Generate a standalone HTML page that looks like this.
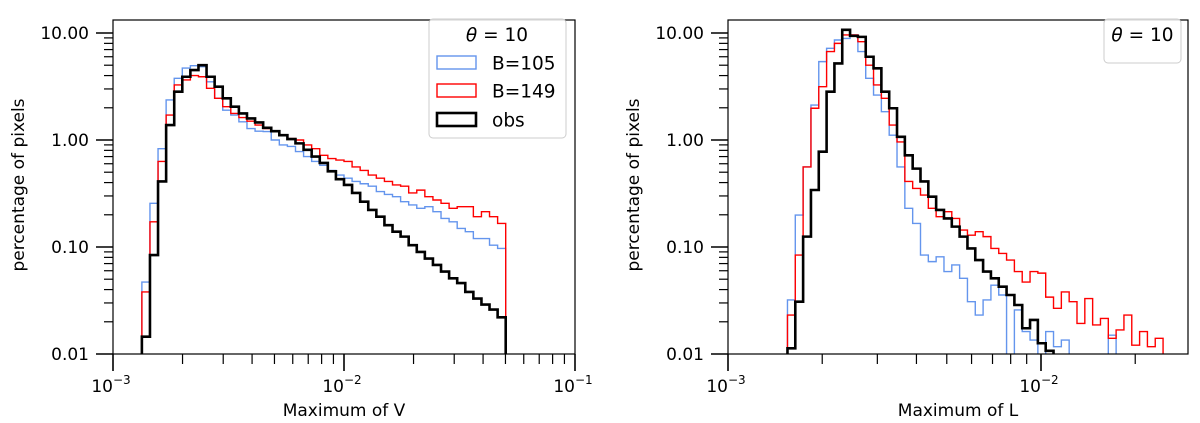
<!DOCTYPE html>
<html><head><meta charset="utf-8"><style>
html,body{margin:0;padding:0;background:#fff;}
svg{display:block;font-family:"DejaVu Sans","Liberation Sans",sans-serif;}
</style></head><body>
<svg id="chart" width="1200" height="423" viewBox="0 0 1200 423" xmlns="http://www.w3.org/2000/svg"></svg>
<script>
// ---- data: left panel (Maximum of V), log-bins starting at 10^-2.875, width 0.035 dex
const leftBinStart = -2.875;
const leftBinStep = 0.035;
const leftObs = [0.0145,0.084,0.41,1.38,2.83,3.9,4.5,5.0,3.9,3.15,2.45,2.05,1.77,1.59,1.46,1.30,1.21,1.11,1.02,0.93,0.81,0.70,0.61,0.51,0.43,0.38,0.32,0.265,0.222,0.192,0.160,0.139,0.125,0.104,0.090,0.078,0.068,0.059,0.051,0.046,0.038,0.033,0.029,0.026,0.022];
const leftB105 = [0.047,0.256,0.83,2.37,3.77,4.7,4.95,4.85,3.5,2.45,1.9,1.71,1.48,1.28,1.21,1.20,1.0,0.90,0.87,0.78,0.70,0.63,0.58,0.52,0.47,0.44,0.41,0.39,0.37,0.33,0.31,0.295,0.265,0.247,0.23,0.238,0.214,0.185,0.172,0.149,0.139,0.12,0.12,0.104,0.097];
const leftB149 = [0.038,0.172,0.63,1.71,3.27,3.64,4.0,3.9,3.04,2.45,2.05,1.77,1.62,1.5,1.38,1.28,1.20,1.10,1.03,1.0,0.90,0.83,0.72,0.67,0.65,0.63,0.56,0.52,0.47,0.44,0.41,0.38,0.37,0.32,0.34,0.295,0.275,0.256,0.23,0.238,0.238,0.192,0.214,0.192,0.166];
// ---- data: right panel (Maximum of L), log-bins starting at 10^-2.81, width 0.025 dex
const rightBinStart = -2.81;
const rightBinStep = 0.025;
const rightObs = [0.0113,0.0308,0.125,0.341,0.778,2.83,5.2,10.7,9.4,9.2,6.0,4.68,2.83,1.98,1.07,0.72,0.54,0.41,0.295,0.222,0.185,0.155,0.125,0.097,0.0755,0.059,0.051,0.0426,0.0356,0.0287,0.0174,0.0208,0.0126,0.0107,0,0,0,0,0,0,0,0,0,0,0,0,0,0];
const rightB105 = [0.032,0.199,0.56,2.12,5.4,7.2,8.6,8.9,9.6,6.7,3.77,2.63,1.84,1.11,0.56,0.23,0.166,0.084,0.073,0.081,0.059,0.068,0.051,0.0308,0.0231,0.032,0.044,0.0356,0,0.0258,0.0162,0.0135,0,0.0162,0.0117,0.0135,0,0,0,0,0,0.015,0,0,0,0,0,0];
const rightB149 = [0.0231,0.084,0.56,1.98,3.15,6.7,8.0,9.6,9.6,8.3,5.0,3.27,2.45,1.38,0.96,0.41,0.353,0.306,0.23,0.192,0.214,0.185,0.144,0.129,0.139,0.125,0.097,0.087,0.0755,0.059,0.047,0.059,0.057,0.034,0.0267,0.038,0.0308,0.0193,0.033,0.0187,0.0215,0.014,0.0168,0.0231,0.0121,0.0162,0.0117,0.014];
const yTickLabels = ["10.00","1.00","0.10","0.01"];
const yTickValues = [10,1,0.1,0.01];

const NS="http://www.w3.org/2000/svg";
const svg=document.getElementById('chart');
function mk(tag,attrs,parent){const e=document.createElementNS(NS,tag);for(const k in attrs)e.setAttribute(k,attrs[k]);(parent||svg).appendChild(e);return e;}

const TOP=20,BOT=354;
const FS=17;
function yScale(v){ if(!(v>0)) return BOT+50; return BOT-(Math.log10(v)+2)*107; }

function panel(cfg){
  const g=mk('g',{});
  
  
  const xs=L=>cfg.x0+(L+3)*cfg.dec;
  const clipId=cfg.name+'-clip';
  const cp=mk('clipPath',{id:clipId},g);
  mk('rect',{x:cfg.x0,y:TOP,width:cfg.x1-cfg.x0,height:BOT-TOP},cp);
  const series=[[cfg.b105,'#6495ed',1.4,'series-b105'],[cfg.b149,'#ff0000',1.4,'series-b149'],[cfg.obs,'#000',2.6,'series-obs']];
  series.forEach(([vals,col,w,nm])=>{
    let d='M'+xs(cfg.start).toFixed(2)+','+(BOT+60);
    vals.forEach((v,i)=>{
      const xa=xs(cfg.start+i*cfg.step), xb=xs(cfg.start+(i+1)*cfg.step), y=yScale(v);
      d+=' L'+xa.toFixed(2)+','+y.toFixed(2)+' L'+xb.toFixed(2)+','+y.toFixed(2);
    });
    d+=' L'+xs(cfg.start+vals.length*cfg.step).toFixed(2)+','+(BOT+60);
    const p=mk('path',{d:d,fill:'none',stroke:col,'stroke-width':w,'stroke-linejoin':'miter','clip-path':'url(#'+clipId+')'},g);
    
    
  });
  const fr=mk('rect',{x:cfg.x0,y:TOP,width:cfg.x1-cfg.x0,height:BOT-TOP,fill:'none',stroke:'#000','stroke-width':1.2},g);
  
  
  for(let e=-2;e<=1;e++){
    for(let m=1;m<10;m++){
      const v=m*Math.pow(10,e); const y=yScale(v);
      if(y<TOP-0.5||y>BOT+0.5) continue;
      const len=m===1?17:9;
      mk('line',{x1:cfg.x0-len,x2:cfg.x0,y1:y,y2:y,stroke:'#000','stroke-width':m===1?1.6:1.2},g);
    }
  }
  yTickValues.forEach((v,i)=>{
    const t=mk('text',{x:cfg.x0-24,y:yScale(v)+6,'text-anchor':'end','font-size':FS,fill:'#000'},g);
    t.textContent=yTickLabels[i];
    
    
  });
  for(let e=-3;e<=-1;e++){
    for(let m=1;m<10;m++){
      const L=Math.log10(m)+e; const x=xs(L);
      if(x<cfg.x0-0.5||x>cfg.x1+0.5) continue;
      const len=m===1?17:10;
      mk('line',{x1:x,x2:x,y1:BOT,y2:BOT+len,stroke:'#000','stroke-width':m===1?1.6:1.2},g);
      if(m===1){
        const t=mk('text',{x:x-2,y:BOT+38,'text-anchor':'middle','font-size':FS,fill:'#000'},g);
        
        
        t.textContent='10';
        const s=mk('tspan',{dy:-8,'font-size':12},t); s.textContent='\u2212'+(-e);
      }
    }
  }
  const xt=mk('text',{x:(cfg.x0+cfg.x1)/2,y:416,'text-anchor':'middle','font-size':FS,fill:'#000'},g);
  xt.textContent=cfg.xlabel;
  
  
  const yt=mk('text',{x:0,y:0,'text-anchor':'middle','font-size':FS,fill:'#000',transform:'translate('+(cfg.x0-89)+',185) rotate(-90)'},g);
  yt.textContent='percentage of pixels';
  
  
  return g;
}

panel({name:'left-panel',x0:113,x1:575,dec:231,start:leftBinStart,step:leftBinStep,obs:leftObs,b105:leftB105,b149:leftB149,xlabel:'Maximum of V'});
panel({name:'right-panel',x0:728,x1:1188,dec:313,start:rightBinStart,step:rightBinStep,obs:rightObs,b105:rightB105,b149:rightB149,xlabel:'Maximum of L'});

const LFS=18.5;
const lg=mk('g',{});


mk('rect',{x:429,y:19,width:137,height:119,rx:4,fill:'#fff','fill-opacity':0.85,stroke:'#ccc','stroke-width':1},lg);
function theta(x,y,parent){
  const t=mk('text',{x:x,y:y,'text-anchor':'middle','font-size':LFS,fill:'#000'},parent);
  const a=mk('tspan',{'font-style':'italic'},t); a.textContent='\u03b8';
  const b=mk('tspan',{},t); b.textContent=' = 10';
  
  
}
theta(497,41,lg);
[['B=105','#6495ed',1.4,63],['B=149','#ff0000',1.4,91],['obs','#000',2.6,120]].forEach(([lab,col,w,y])=>{
  const e=mk('g',{},lg);
  
  
  mk('rect',{x:437,y:y-7,width:39,height:13,fill:'none',stroke:col,'stroke-width':w},e);
  const t=mk('text',{x:492,y:y+6.5,'font-size':LFS,fill:'#000'},e); t.textContent=lab;
});
const rg=mk('g',{});


mk('rect',{x:1104,y:19,width:77,height:44,rx:4,fill:'#fff','fill-opacity':0.85,stroke:'#ccc','stroke-width':1},rg);
theta(1142.5,41,rg);
</script>
</body></html>
